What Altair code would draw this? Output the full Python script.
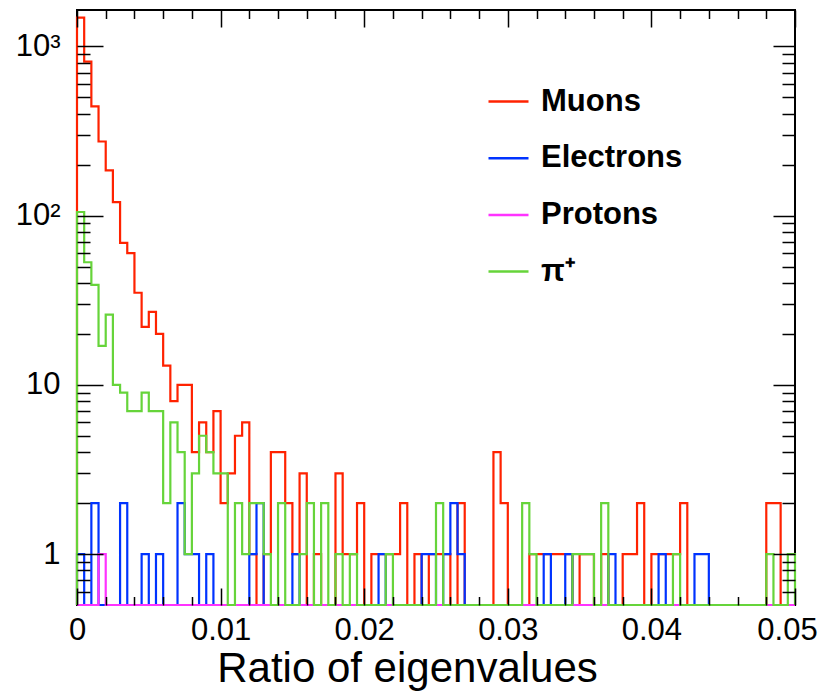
import altair as alt
import pandas as pd

# ---------------- data ----------------
bin_width = 0.0005
x_min, x_max = 0.0, 0.05
y_min, y_max = 0.5, 1640

muons = [1480, 813, 442, 274, 185, 120, 69, 60, 35, 22,
         27, 20, 13, 8, 10, 10, 4, 6, 4, 7,
         2, 3, 5, 6, 1, 0, 1, 4, 4, 2,
         1, 3, 0, 1, 0, 0, 3, 1, 1, 2,
         0, 1, 1, 1, 1, 2, 0, 1, 0, 1,
         1, 1, 0, 2, 0, 0, 0, 0, 4, 2,
         0, 0, 0, 1, 1, 1, 1, 1, 1, 0,
         1, 1, 0, 1, 0, 0, 1, 1, 2, 0,
         1, 1, 1, 1, 2, 0, 0, 0, 0, 0,
         0, 0, 0, 0, 0, 0, 2, 2, 0, 0]

electrons = [1, 0, 2, 0, 0, 0, 2, 0, 0, 1,
             0, 1, 0, 0, 2, 1, 1, 0, 1, 0,
             0, 0, 0, 0, 1, 2, 0, 0, 0, 0,
             1, 0, 0, 0, 0, 0, 0, 0, 0, 0,
             0, 0, 1, 0, 0, 0, 0, 0, 1, 1,
             0, 1, 2, 1, 0, 0, 0, 0, 0, 0,
             0, 0, 0, 0, 0, 1, 0, 0, 1, 0,
             0, 0, 0, 0, 1, 0, 0, 0, 0, 0,
             0, 1, 0, 0, 0, 0, 1, 1, 0, 0,
             0, 0, 0, 0, 0, 0, 0, 0, 0, 0]

protons = [0, 0, 0, 1, 0, 0, 0, 0, 0, 0] + [0] * 90

pions = [105, 53, 39, 17, 26, 10, 9, 7, 7, 9,
         7, 7, 2, 6, 4, 1, 3, 5, 4, 3,
         3, 0, 2, 1, 2, 2, 1, 0, 2, 0,
         0, 1, 2, 0, 2, 0, 1, 0, 1, 0,
         0, 0, 0, 1, 0, 0, 0, 0, 0, 0,
         2, 0, 0, 0, 0, 0, 0, 0, 0, 0,
         0, 0, 2, 1, 0, 0, 0, 0, 0, 1,
         1, 1, 0, 2, 0, 0, 0, 0, 0, 0,
         0, 0, 0, 1, 0, 0, 0, 0, 0, 0,
         0, 0, 0, 0, 0, 0, 1, 0, 0, 1]

series_names = ["Muons", "Electrons", "Protons", "π⁺"]
series_colors = ["#ff2200", "#0033ff", "#ff33ff", "#66d43a"]
series_counts = [muons, electrons, protons, pions]

x_major = [0, 0.01, 0.02, 0.03, 0.04, 0.05]
x_minor = [round(0.002 * k, 4) for k in range(1, 25) if k % 5 != 0]
y_major = [1, 10, 100, 1000]
y_minor = [0.6, 0.7, 0.8, 0.9] + [float(m * d) for d in (1, 10, 100) for m in range(2, 10)]

FONT = "Liberation Sans"

# ---------------- build step-outline table ----------------
rows = []
for name, counts in zip(series_names, series_counts):
    pts = [(x_min, 0)] + [(k * bin_width, c) for k, c in enumerate(counts)] \
          + [(x_max, counts[-1]), (x_max, 0)]
    for order, (xv, c) in enumerate(pts):
        rows.append({"series": name, "order": order, "x": round(xv, 6),
                     "count": c, "y": max(c, y_min)})
df = pd.DataFrame(rows)

xs = alt.Scale(domain=[x_min, x_max], nice=False, zero=False)
ys = alt.Scale(type="log", domain=[y_min, y_max], nice=False)

color = alt.Color(
    "series:N",
    scale=alt.Scale(domain=series_names, range=series_colors),
    legend=alt.Legend(orient="none", legendX=410, legendY=70,
                      symbolType="stroke", symbolSize=1600, symbolStrokeWidth=2.5,
                      labelFont=FONT, labelFontSize=31, labelFontWeight="bold",
                      labelColor="black", rowPadding=19.7, labelOffset=11,
                      padding=0, title=None),
)

label_x_axis = alt.Axis(
    orient="bottom", values=x_major, ticks=False, tickSize=0, domain=False, grid=False,
    labelExpr="datum.value == 0 ? '0' : format(datum.value, '.2f')",
    labelFont=FONT, labelFontSize=31, labelColor="black", labelPadding=10,
    labelOffset={"condition": {"test": "datum.value >= 0.0499", "value": -8}, "value": 0},
    labelFlush=False, labelOverlap=False,
    title="Ratio of eigenvalues", titleFont=FONT, titleFontSize=42,
    titleFontWeight="normal", titleColor="black",
    titleX=330, titleY=76, titleAlign="center", titleBaseline="alphabetic",
)
label_y_axis = alt.Axis(
    orient="left", values=y_major, ticks=False, tickSize=0, domain=False, grid=False,
    labelExpr="datum.value == 1000 ? '10³' : (datum.value == 100 ? '10²' : format(datum.value, 'd'))",
    labelFont=FONT, labelFontSize=31, labelColor="black", labelPadding=17,
    labelFlush=False, labelOverlap=False, title=None,
)

layers = []
for i, name in enumerate(series_names):
    layers.append(
        alt.Chart(df).transform_filter(alt.datum.series == name)
        .mark_line(interpolate="step-after", strokeWidth=2.2)
        .encode(
            x=alt.X("x:Q", scale=xs, axis=label_x_axis if i == 0 else None),
            y=alt.Y("y:Q", scale=ys, axis=label_y_axis if i == 0 else None),
            color=color,
            order=alt.Order("order:Q"),
        )
    )


def tick_axis(orient, values, size):
    return alt.Axis(orient=orient, values=values, tickSize=size, offset=-size,
                    labels=False, domain=False, grid=False, title=None, ticks=True,
                    tickColor="black", tickWidth=1.5, zindex=1)


def tick_layer(x_axis, y_axis):
    return alt.Chart(df).mark_point(opacity=0, size=1).encode(
        x=alt.X("x:Q", scale=xs, axis=x_axis),
        y=alt.Y("y:Q", scale=ys, axis=y_axis),
    )


layers += [
    tick_layer(tick_axis("bottom", x_major, 17), tick_axis("left", y_major, 26)),
    tick_layer(tick_axis("top", x_major, 17), tick_axis("right", y_major, 22)),
    tick_layer(tick_axis("bottom", x_minor, 8.5), tick_axis("left", y_minor, 13)),
    tick_layer(tick_axis("top", x_minor, 8.5), tick_axis("right", y_minor, 13)),
]

chart = alt.layer(*layers).resolve_axis(x="independent", y="independent").properties(
    width=718, height=595,
    autosize=alt.AutoSizeParams(type="none"),
    padding={"left": 69, "top": 2, "right": 25, "bottom": 86},
    background="white",
).configure_view(stroke="black", strokeWidth=2)

chart.save("out.html", embed_options={"renderer": "svg", "actions": False})
